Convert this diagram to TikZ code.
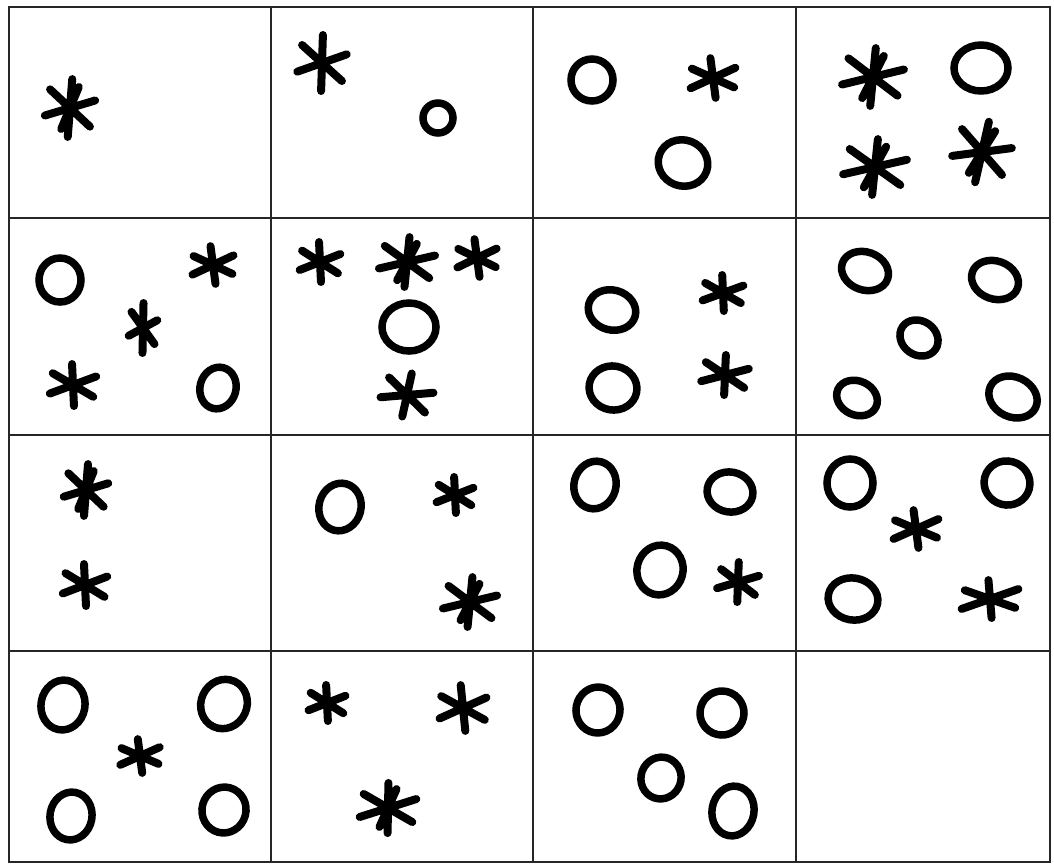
\documentclass[tikz,border=0pt]{standalone}
\usetikzlibrary{calc}
\tikzset{
  gridline/.style={line width=1.4pt, draw=black!85},
  astk/.style={line width=8pt, line cap=round, draw=black},
  ringst/.style={line width=7.5pt, draw=black},
}
% #1 x, #2 y, #3 rx, #4 ry, #5 rotation
\newcommand\AstMark[5]{%
  \begin{scope}[shift={(#1,#2)},rotate=#5]
    \draw[astk] (92:#3 and #4) -- (272:#3 and #4)
                (-18:#3 and #4) -- (162:#3 and #4)
                (40:#3 and #4) -- (220:#3 and #4);
  \end{scope}}
% big asterisk with an extra stroke
\newcommand\AstBig[5]{%
  \begin{scope}[shift={(#1,#2)},rotate=#5]
    \draw[astk] (95:#3 and #4) -- (275:#3 and #4)
                (-15:#3 and #4) -- (165:#3 and #4)
                (40:#3 and #4) -- (220:#3 and #4)
                (-65:0.8*#3 and 0.8*#4) -- (115:0.8*#3 and 0.8*#4);
  \end{scope}}
% #1 x, #2 y, #3 rx, #4 ry, #5 rotation
\newcommand\RingMark[5]{%
  \draw[ringst] (#1,#2) ellipse[x radius=#3, y radius=#4, rotate=#5];}
\begin{document}
\begin{tikzpicture}[x=1pt,y=-1pt]
\useasboundingbox (0,0) rectangle (1054,863);
\fill[white] (0,0) rectangle (1054,863);
% grid
\draw[gridline] (9,7) rectangle (1050,862);
\draw[gridline] (271,7) -- (271,862) (533,7) -- (533,862) (796,7) -- (796,862);
\draw[gridline] (9,218) -- (1050,218) (9,435) -- (1050,435) (9,651) -- (1050,651);
% row 1
\AstBig{70}{108}{26}{29}{0}
\AstMark{322}{63}{26}{28}{0}
\RingMark{438}{118}{15}{15}{0}
\RingMark{592}{80}{21}{21}{0}
\AstMark{713}{78}{25}{20}{10}
\RingMark{683}{163}{25}{23}{-20}
\AstBig{873}{77}{32}{29}{0}
\RingMark{981}{68}{27}{23}{0}
\AstBig{875}{167}{33}{28}{0}
\AstBig{982}{152}{30}{31}{-8}
% row 2
\RingMark{60}{280}{21}{22}{0}
\AstMark{213}{265}{23}{19}{10}
\AstMark{143}{328}{15}{25}{0}
\AstMark{73}{385}{25}{21}{5}
\RingMark{218}{388}{18}{21}{-15}
\AstMark{320}{262}{22}{20}{5}
\AstBig{407}{262}{29}{25}{0}
\AstMark{477}{258}{22}{19}{10}
\RingMark{409}{327}{27}{24}{0}
\AstMark{407}{395}{27}{22}{-10}
\RingMark{612}{310}{24}{20}{-15}
\AstMark{723}{293}{22}{18}{5}
\RingMark{613}{388}{24}{22}{-10}
\AstMark{725}{375}{25}{20}{0}
\RingMark{865}{271}{24}{19}{-20}
\RingMark{995}{280}{24}{19}{-20}
\RingMark{919}{338}{20}{17}{-35}
\RingMark{857}{398}{21}{17}{-25}
\RingMark{1013}{397}{25}{20}{-25}
% row 3
\AstBig{86}{490}{23}{26}{0}
\AstMark{85}{585}{24}{21}{5}
\RingMark{340}{507}{21}{24}{-15}
\AstMark{455}{495}{20}{18}{5}
\AstBig{470}{602}{28}{25}{0}
\RingMark{595}{485}{21}{24}{-15}
\RingMark{730}{492}{23}{20}{-10}
\RingMark{660}{570}{23}{25}{-15}
\AstMark{738}{582}{22}{20}{0}
\RingMark{850}{483}{23}{24}{0}
\RingMark{1007}{483}{23}{22}{-15}
\AstMark{916}{529}{25}{19}{10}
\RingMark{853}{599}{25}{21}{-10}
\AstMark{990}{599}{31}{19}{8}
% row 4
\RingMark{63}{705}{22}{25}{-10}
\RingMark{224}{704}{23}{25}{-25}
\AstMark{140}{756}{22}{17}{10}
\RingMark{71}{816}{21}{24}{-10}
\RingMark{224}{810}{22}{23}{-15}
\AstMark{327}{703}{20}{18}{5}
\AstMark{463}{708}{26}{23}{8}
\AstBig{388}{808}{30}{25}{5}
\RingMark{598}{710}{22}{23}{-10}
\RingMark{722}{713}{22}{22}{-25}
\RingMark{661}{778}{20}{21}{-20}
\RingMark{733}{811}{21}{25}{-10}
\end{tikzpicture}
\end{document}
